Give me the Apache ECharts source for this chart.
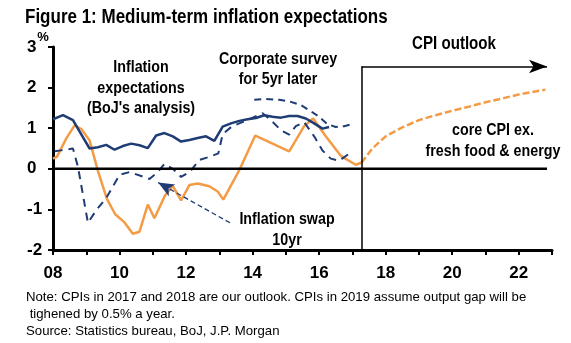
<!DOCTYPE html>
<html><head><meta charset="utf-8">
<script src="https://cdn.jsdelivr.net/npm/echarts@6/dist/echarts.min.js"></script>
<style>html,body{margin:0;padding:0;background:#fff}#c{width:571px;height:343px}</style>
</head><body><div id="c"></div>
<script>
// ---- data (year as decimal, value in %) ----
const yTicks = [-2, -1, 0, 1, 2, 3];
const xTickLabels = ['08', '10', '12', '14', '16', '18', '20', '22'];

const bojExpect = [[2008.0,1.22],[2008.3,1.32],[2008.6,1.2],[2008.85,0.85],[2009.1,0.5],[2009.35,0.53],[2009.6,0.59],[2009.85,0.47],[2010.1,0.56],[2010.35,0.62],[2010.6,0.58],[2010.85,0.51],[2011.1,0.82],[2011.35,0.88],[2011.6,0.8],[2011.85,0.67],[2012.1,0.71],[2012.35,0.76],[2012.6,0.8],[2012.85,0.69],[2013.1,1.04],[2013.35,1.12],[2013.6,1.18],[2013.85,1.22],[2014.1,1.25],[2014.35,1.32],[2014.6,1.28],[2014.85,1.26],[2015.1,1.3],[2015.35,1.3],[2015.6,1.24],[2015.85,1.12],[2016.1,0.99],[2016.3,1.03]];

const coreCpi = [[2008.0,0.25],[2008.12,0.3],[2008.4,0.75],[2008.65,1.07],[2008.85,0.98],[2009.1,0.7],[2009.35,-0.05],[2009.62,-0.74],[2009.87,-1.12],[2010.15,-1.32],[2010.4,-1.6],[2010.6,-1.55],[2010.85,-0.88],[2011.05,-1.22],[2011.37,-0.65],[2011.6,-0.42],[2011.85,-0.78],[2012.1,-0.4],[2012.35,-0.36],[2012.7,-0.43],[2012.95,-0.56],[2013.12,-0.76],[2013.62,0.0],[2014.08,0.82],[2014.6,0.62],[2015.1,0.43],[2015.55,1.05],[2015.82,1.24],[2016.2,0.8],[2016.65,0.32],[2017.1,0.1],[2017.27,0.15]];

const coreCpiOutlook = [[2017.27,0.15],[2017.6,0.5],[2018.0,0.8],[2018.5,1.02],[2019.0,1.2],[2019.5,1.32],[2020.0,1.43],[2020.5,1.53],[2021.0,1.64],[2021.5,1.73],[2022.0,1.83],[2022.8,1.95]];

const swap10y = [[2008.05,0.43],[2008.6,0.5],[2008.75,0.05],[2009.05,-1.33],[2009.3,-1.02],[2009.6,-0.72],[2010.0,-0.15],[2010.3,-0.08],[2010.9,-0.25],[2011.15,-0.08],[2011.35,0.12],[2011.6,0.0],[2011.85,-0.2],[2012.12,-0.07],[2012.4,0.22],[2012.72,0.3],[2012.97,0.38],[2013.1,0.85],[2013.37,1.04],[2013.6,1.12],[2013.9,1.22],[2014.3,1.37],[2014.55,1.2],[2014.85,0.95],[2015.1,0.84],[2015.3,1.05],[2015.55,1.15],[2015.85,0.8],[2016.1,0.45],[2016.35,0.25],[2016.6,0.2],[2016.92,0.38]];

const corpSurvey5y = [[2014.05,1.7],[2014.4,1.72],[2014.8,1.7],[2015.1,1.66],[2015.45,1.57],[2015.75,1.42],[2016.0,1.28],[2016.25,1.1],[2016.5,1.03],[2016.75,1.05],[2017.0,1.1]];

const zeroLine = [[2008,0],[2022.85,0]];
const forecastStart = 2017.27;
const outlookArrowLevel = 2.52;
const outlookArrowEnd = 2022.85;
const swapArrowFrom = [2013.32, -1.33];
const swapArrowTo = [2011.16, -0.34];

// ---- styles ----
const NAVY = '#1f3c74';
const ORANGE = '#f39b45';
const FONT = "'Liberation Sans',Arial,sans-serif";

const chart = echarts.init(document.getElementById('c'), null, {renderer: 'canvas'});

function txt(text, x, y, size, opts) {
  opts = opts || {};
  return {
    type: 'text', z: 100, x: x, y: y,
    scaleX: opts.sx || 0.84, scaleY: 1,
    style: {
      text: text, x: 0, y: 0,
      font: (opts.weight || 'bold') + ' ' + size + 'px ' + FONT,
      fill: '#000',
      align: opts.align || 'center',
      verticalAlign: 'middle',
      lineHeight: opts.lh || size * 1.25
    }
  };
}

chart.setOption({
  animation: false,
  backgroundColor: '#fff',
  grid: {left: 53, right: 19, top: 47, bottom: 93, containLabel: false},
  xAxis: {
    type: 'value', min: 2008, max: 2023, interval: 1,
    axisLine: {onZero: false, lineStyle: {color: '#000', width: 3}},
    axisTick: {show: true, inside: false, length: 5, lineStyle: {color: '#000', width: 2}},
    axisLabel: {
      margin: 15, color: '#000', fontFamily: FONT, fontWeight: 'bold', fontSize: 17,
      formatter: function (v) {
        const s = String(Math.round(v)).slice(2);
        return xTickLabels.indexOf(s) >= 0 && Math.round(v) % 2 === 0 ? s : '';
      }
    },
    splitLine: {show: false}
  },
  yAxis: {
    type: 'value', min: yTicks[0], max: yTicks[yTicks.length - 1], interval: 1,
    axisLine: {show: true, lineStyle: {color: '#000', width: 3}},
    axisTick: {show: true, inside: false, length: 5, lineStyle: {color: '#000', width: 2}},
    axisLabel: {margin: 26, align: 'left', color: '#000', fontFamily: FONT, fontWeight: 'bold', fontSize: 17},
    splitLine: {show: false}
  },
  series: [
    {
      type: 'line', data: zeroLine, showSymbol: false, z: 5,
      lineStyle: {color: '#000', width: 2.5}, silent: true,
      markLine: {
        silent: true, symbol: ['none', 'arrow'], symbolSize: [10, 18], label: {show: false},
        animation: false,
        data: [
          [{coord: [forecastStart, outlookArrowLevel], symbol: 'none', lineStyle: {color: '#000', width: 1.5, type: 'solid'}},
           {coord: [outlookArrowEnd, outlookArrowLevel], symbol: 'arrow', symbolSize: [10, 18], itemStyle: {color: '#000'}}],
          [{coord: [forecastStart, outlookArrowLevel], symbol: 'none', lineStyle: {color: '#000', width: 1.5, type: 'solid'}},
           {coord: [forecastStart, -2], symbol: 'none'}],
          [{coord: swapArrowFrom, symbol: 'none', lineStyle: {color: NAVY, width: 1.3, type: [5, 3]}},
           {coord: swapArrowTo, symbol: 'arrow', symbolSize: [10, 16], itemStyle: {color: NAVY}}]
        ]
      }
    },
    {type: 'line', name: 'BoJ', data: bojExpect, showSymbol: false, z: 4,
     lineStyle: {color: NAVY, width: 2.5}},
    {type: 'line', name: 'Corp', data: corpSurvey5y, showSymbol: false, z: 3,
     lineStyle: {color: NAVY, width: 2, type: [7, 5]}},
    {type: 'line', name: 'Swap', data: swap10y, showSymbol: false, z: 3,
     lineStyle: {color: NAVY, width: 2, type: [8, 6]}},
    {type: 'line', name: 'CPI', data: coreCpi, showSymbol: false, z: 2,
     lineStyle: {color: ORANGE, width: 2.5}},
    {type: 'line', name: 'CPI outlook', data: coreCpiOutlook, showSymbol: false, z: 2,
     lineStyle: {color: ORANGE, width: 2.5, type: [7, 3]}}
  ],
  graphic: [
    txt('Figure 1: Medium-term inflation expectations', 25, 17, 20, {align: 'left', sx: 0.85}),
    txt('%', 43, 37, 13, {sx: 1}),
    txt('Inflation\nexpectations\n(BoJ\'s analysis)', 141, 88, 17, {lh: 20.5}),
    txt('Corporate survey\nfor 5yr later', 278, 69, 17, {lh: 20}),
    txt('CPI outlook', 454, 44, 18),
    txt('core CPI ex.\nfresh food & energy', 493, 141, 17, {lh: 21.5}),
    txt('Inflation swap\n10yr', 287, 230, 17, {lh: 20.5}),
    txt('Note: CPIs in 2017 and 2018 are our outlook. CPIs in 2019 assume output gap will be\n tighened by 0.5% a year.\nSource: Statistics bureau, BoJ, J.P. Morgan', 26, 314, 13, {align: 'left', weight: 'normal', lh: 17, sx: 1.015})
  ]
});
</script></body></html>
